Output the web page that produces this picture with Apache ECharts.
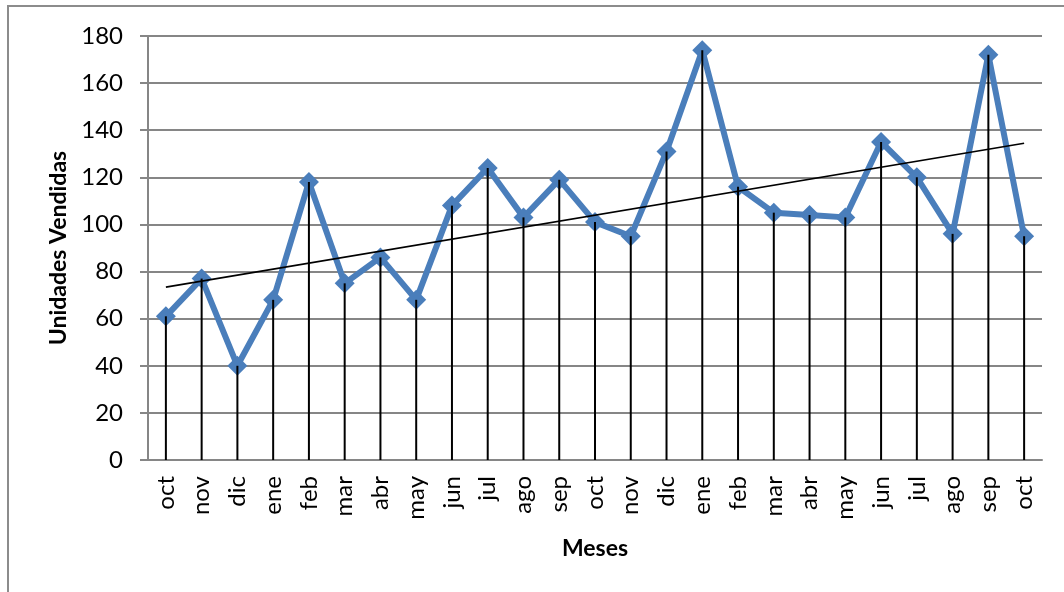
<!DOCTYPE html>
<html>
<head>
<meta charset="utf-8">
<script src="https://cdn.jsdelivr.net/npm/echarts@6/dist/echarts.min.js"></script>
<style>
html,body{margin:0;padding:0;background:#fff;}
#chart{width:1064px;height:592px;}
</style>
</head>
<body>
<div id="chart"></div>
<script>
const months = ['oct','nov','dic','ene','feb','mar','abr','may','jun','jul','ago','sep','oct','nov','dic','ene','feb','mar','abr','may','jun','jul','ago','sep','oct'];
const unidades = [61,77,40,68,118,75,86,68,108,124,103,119,101,95,131,174,116,105,104,103,135,120,96,172,95];
const trendEnds = [73.4, 134.5];
const yTicks = {min:0, max:180, interval:20};

const chart = echarts.init(document.getElementById('chart'));
const font = 'Lato, "Open Sans", sans-serif';
chart.setOption({
  animation:false,
  backgroundColor:'#fff',
  graphic:[{
    type:'rect', shape:{x:8, y:6, width:1200, height:800},
    style:{fill:'none', stroke:'#8c8c8c', lineWidth:2}, silent:true, z:-10
  }],
  grid:{left:148, right:22, top:36, bottom:132},
  xAxis:{
    type:'category', data:months, boundaryGap:true,
    name:'Meses', nameLocation:'middle', nameGap:77,
    nameTextStyle:{fontFamily:font, fontWeight:'bold', fontSize:23, color:'#000'},
    axisLine:{lineStyle:{color:'#868686', width:2}},
    axisTick:{show:false},
    axisLabel:{rotate:90, interval:0, fontFamily:font, fontSize:24, color:'#000', margin:16}
  },
  yAxis:{
    type:'value', min:yTicks.min, max:yTicks.max, interval:yTicks.interval,
    name:'Unidades Vendidas', nameLocation:'middle', nameGap:78, nameRotate:90,
    nameTextStyle:{fontFamily:font, fontWeight:'bold', fontSize:23, color:'#000'},
    axisLine:{show:true, lineStyle:{color:'#868686', width:2}},
    axisTick:{show:true, length:8, lineStyle:{color:'#868686', width:2}},
    splitLine:{lineStyle:{color:'#868686', width:2}},
    axisLabel:{fontFamily:font, fontSize:24, color:'#000', margin:25}
  },
  series:[
    {
      type:'line', data:unidades, symbol:'diamond', symbolSize:20,
      lineStyle:{color:'#4A7EBB', width:6}, itemStyle:{color:'#4A7EBB'}, z:2
    },
    {
      type:'bar', data:unidades, barWidth:2, itemStyle:{color:'#000'}, z:3
    },
    {
      type:'line', data:[[0, trendEnds[0]], [months.length-1, trendEnds[1]]],
      symbol:'none', lineStyle:{color:'#000', width:1.6}, z:4
    }
  ]
});
</script>
</body>
</html>
